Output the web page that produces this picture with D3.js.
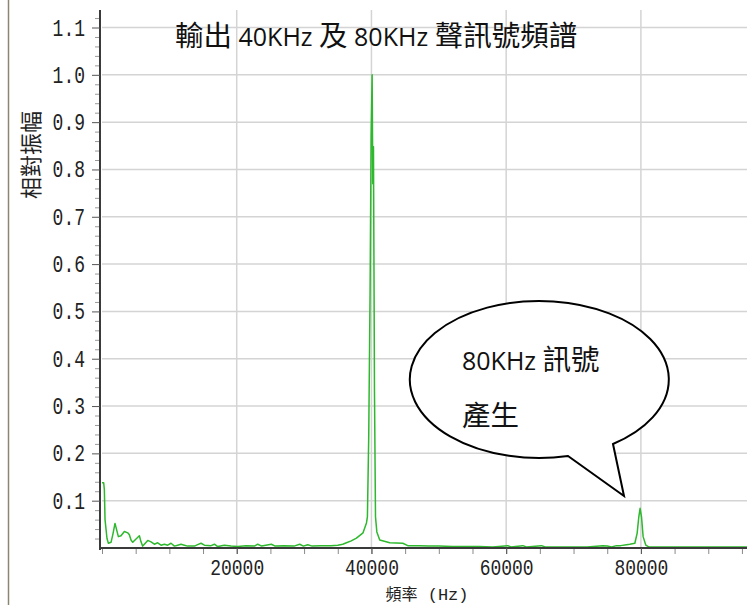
<!DOCTYPE html>
<html>
<head>
<meta charset="utf-8">
<script src="https://cdn.jsdelivr.net/npm/d3@7"></script>
<style>
  body { margin: 0; background: #fff; }
  svg { display: block; }
</style>
</head>
<body>
<svg id="chart" width="747" height="605"></svg>
<script>
// spectrum (Hz, relative amplitude)
const freqHz = [0, 250, 350, 450, 740, 950, 1340, 1630, 1930, 2230, 2430, 2820, 3320, 3820, 4060,
    4310, 4560, 4900, 5200, 5550, 5790, 6040, 6290, 6790, 7280, 7770, 8270, 8760, 9260, 9760,
    10250, 10750, 11240, 11730, 12230, 12720, 13720, 14200, 14700, 15200, 16190, 16690, 17180,
    18170, 19150, 20150, 21400, 22630, 23120, 23700, 25150, 25700, 27000, 28500, 29350, 29900,
    30540, 31200, 32500, 34000, 35000, 35740, 36290, 37000, 37770, 38750, 39260, 39400, 39600,
    39800, 39950, 40100, 40200, 40300, 40450, 40600, 40800, 41230, 42720, 44650, 45390, 47000,
    48500, 50000, 52000, 54000, 56000, 58000, 60240, 60700, 62470, 63000, 65240, 65800, 68000,
    70000, 72000, 74350, 75000, 75640, 76380, 77000, 77860, 78350, 79100, 79440, 79690, 79880,
    80090, 80330, 80730, 81220, 84000, 88000, 92000, 95750];

const amplitude = [0.138, 0.138, 0.123, 0.06, 0.02, 0.01, 0.012, 0.03, 0.052, 0.035, 0.024, 0.026, 0.035, 0.032, 0.028,
    0.017, 0.012, 0.017, 0.021, 0.026, 0.013, 0.004, 0.008, 0.016, 0.013, 0.008, 0.011, 0.006, 0.008, 0.006,
    0.01, 0.004, 0.006, 0.008, 0.006, 0.004, 0.004, 0.007, 0.01, 0.006, 0.005, 0.008, 0.003,
    0.006, 0.004, 0.003, 0.005, 0.004, 0.008, 0.004, 0.008, 0.004, 0.005, 0.004, 0.008, 0.004,
    0.007, 0.004, 0.005, 0.005, 0.006, 0.008, 0.011, 0.015, 0.021, 0.032, 0.053, 0.066, 0.24,
    0.545, 0.87, 1.0, 0.77, 0.848, 0.33, 0.066, 0.034, 0.017, 0.011, 0.01, 0.005, 0.005,
    0.004, 0.004, 0.003, 0.003, 0.003, 0.002, 0.005, 0.002, 0.005, 0.002, 0.005, 0.002, 0.002,
    0.002, 0.002, 0.005, 0.004, 0.002, 0.005, 0.005, 0.007, 0.008, 0.01, 0.031, 0.066, 0.084,
    0.066, 0.024, 0.006, 0.002, 0.002, 0.002, 0.002, 0.002];

const xTickValues = [20000, 40000, 60000, 80000];
const yTickValues = [0.1, 0.2, 0.3, 0.4, 0.5, 0.6, 0.7, 0.8, 0.9, 1.0, 1.1];

const titleParts = [['輸出', 'cjk'], [' 40KHz ', 'lat'], ['及', 'cjk'], [' 80KHz ', 'lat'], ['聲訊號頻譜', 'cjk']];
const bubbleLine1 = [['80KHz ', 'lat'], ['訊號', 'cjk']];
const bubbleLine2 = [['產生', 'cjk']];
const xLabelParts = [['頻率', 'cjk'], [' (Hz)', 'mono']];
const yLabel = '相對振幅';

const svg = d3.select('#chart');
const cjkFont = '"Noto Sans CJK TC", "Noto Sans CJK SC", sans-serif';
const latFont = '"Open Sans", sans-serif';
const monoFont = '"Liberation Mono", "DejaVu Sans Mono", monospace';

const x = d3.scaleLinear().domain([0, 95750]).range([102, 747]);
const y = d3.scaleLinear().domain([0, 1.137]).range([548, 10]);

// frame line at far left
svg.append('line')
    .attr('x1', 8.5).attr('x2', 8.5).attr('y1', 0).attr('y2', 605)
    .attr('stroke', '#8a8672').attr('stroke-width', 1.5);

// grid
svg.append('g').selectAll('line')
    .data(yTickValues)
    .join('line')
    .attr('x1', x(0)).attr('x2', 747)
    .attr('y1', d => y(d)).attr('y2', d => y(d))
    .attr('stroke', '#d4d4d4').attr('stroke-width', 1.5);

svg.append('g').selectAll('line')
    .data(xTickValues)
    .join('line')
    .attr('x1', d => x(d)).attr('x2', d => x(d))
    .attr('y1', y.range()[1]).attr('y2', y(0))
    .attr('stroke', '#d4d4d4').attr('stroke-width', 1.5);

// minor ticks
const yMinor = d3.range(0, 1.14, 0.02).filter(v => Math.abs(v * 10 - Math.round(v * 10)) > 0.01);
svg.append('g')
    .attr('transform', 'translate(100,0)')
    .call(d3.axisLeft(y).tickValues(yMinor).tickSize(5).tickSizeOuter(0).tickFormat(''))
    .call(g => g.select('.domain').remove())
    .call(g => g.selectAll('line').attr('stroke', '#9a9a9a'));

svg.append('g')
    .attr('transform', 'translate(0,548)')
    .call(d3.axisBottom(x).tickValues(d3.range(0, 95001, 5000)).tickSize(6).tickSizeOuter(0).tickFormat(''))
    .call(g => g.select('.domain').remove())
    .call(g => g.selectAll('line').attr('stroke', '#8a8a8a'));

// spectrum line
const line = d3.line()
    .x(d => x(d[0]))
    .y(d => y(d[1]));

svg.append('path')
    .attr('d', line(d3.zip(freqHz, amplitude)))
    .attr('fill', 'none')
    .attr('stroke', '#2db82d')
    .attr('stroke-width', 1.5)
    .attr('stroke-linejoin', 'round');

// axes (tick digits are tall and narrow in the original, so stretch them)
svg.append('g')
    .attr('transform', 'translate(100,0)')
    .call(d3.axisLeft(y).tickValues(yTickValues).tickSize(8).tickSizeOuter(0).tickPadding(7).tickFormat(d3.format('.1f')))
    .call(g => g.select('.domain').attr('stroke', '#3a3a3a').attr('stroke-width', 2)
        .attr('d', 'M0,10V550'))
    .call(g => g.selectAll('line').attr('stroke', '#555'))
    .call(g => g.selectAll('text')
        .attr('x', 0)
        .attr('transform', 'translate(-15,0) scale(1,1.3)')
        .attr('font-family', monoFont).attr('font-size', 18).attr('fill', '#222'));

svg.append('g')
    .attr('transform', 'translate(0,548)')
    .call(d3.axisBottom(x).tickValues(xTickValues).tickSize(6).tickSizeOuter(0).tickPadding(11).tickFormat(d => d))
    .call(g => g.select('.domain').attr('stroke', '#3a3a3a').attr('stroke-width', 2)
        .attr('d', 'M99,0H747'))
    .call(g => g.selectAll('line').attr('stroke', '#555'))
    .call(g => g.selectAll('text')
        .attr('y', 0)
        .attr('transform', 'translate(0,11) scale(1,1.25)')
        .attr('font-family', monoFont).attr('font-size', 18).attr('fill', '#222'));

// mixed-font text helper
function mixedText(parts, px, py, sizes) {
    const t = svg.append('text').attr('x', px).attr('y', py).attr('fill', '#111')
        .style('white-space', 'pre');
    parts.forEach(p => {
        t.append('tspan')
            .attr('font-family', p[1] == 'cjk' ? cjkFont : p[1] == 'mono' ? monoFont : latFont)
            .attr('font-size', sizes[p[1]])
            .text(p[0]);
    });
    return t;
}

// axis titles
mixedText(xLabelParts, 427, 600, {cjk: 16, mono: 17})
    .attr('text-anchor', 'middle').attr('fill', '#222');

svg.append('text')
    .attr('transform', 'translate(39,155) rotate(-90)')
    .attr('text-anchor', 'middle')
    .attr('font-family', cjkFont).attr('font-size', 22).attr('fill', '#222')
    .text(yLabel);

const bigText = {cjk: 28.5, lat: 25};
mixedText(titleParts, 175, 46, bigText);

// speech bubble
svg.append('path')
    .attr('d', 'M613,444 A129.5,78.5 0 1 0 568,456 L624,496 Z')
    .attr('fill', '#fff')
    .attr('stroke', '#000')
    .attr('stroke-width', 2)
    .attr('stroke-linejoin', 'miter');

mixedText(bubbleLine1, 462, 370, bigText);
mixedText(bubbleLine2, 462, 426, bigText);
</script>
</body>
</html>
